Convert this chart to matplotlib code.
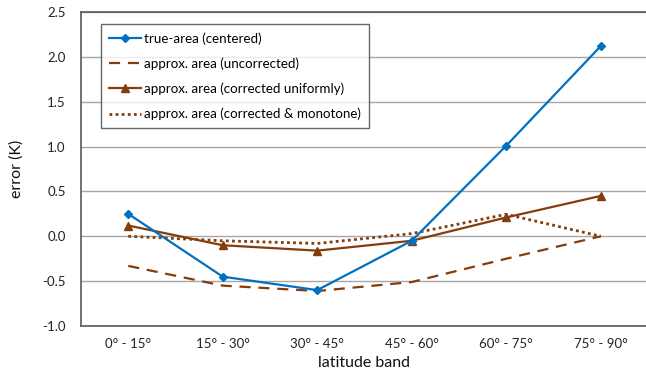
import matplotlib
matplotlib.use("Agg")
import matplotlib.pyplot as plt

plt.rcParams['font.family'] = ['Lato', 'DejaVu Sans']

categories = ["0° - 15°", "15° - 30°", "30° - 45°", "45° - 60°", "60° - 75°", "75° - 90°"]
true_area = [0.25, -0.45, -0.60, -0.05, 1.01, 2.12]
approx_uncorrected = [-0.33, -0.55, -0.61, -0.51, -0.25, 0.0]
approx_uniform = [0.12, -0.10, -0.16, -0.05, 0.21, 0.45]
approx_monotone = [0.0, -0.05, -0.08, 0.03, 0.245, 0.0]

blue = "#0070C0"
brown = "#843C0C"

fig = plt.figure(figsize=(6.46, 3.78), dpi=100)
ax = fig.add_axes([81/646, 1-326/378, (648-81)/646, (326-12)/378])

x = list(range(len(categories)))
ax.plot(x, true_area, color=blue, lw=1.6, marker="D", ms=4.5, label="true-area (centered)", zorder=4, clip_on=False)
ax.plot(x, approx_uncorrected, color=brown, lw=1.6, ls=(0, (5, 3.5)), label="approx. area (uncorrected)", zorder=3)
ax.plot(x, approx_uniform, color=brown, lw=1.6, marker="^", ms=6, label="approx. area (corrected uniformly)", zorder=3)
ax.plot(x, approx_monotone, color=brown, lw=2, ls=(0, (1, 1.2)), label="approx. area (corrected & monotone)", zorder=3)

ax.set_xlim(-0.5, 5.5)
ax.set_ylim(-1.0, 2.5)
yt = [-1.0, -0.5, 0.0, 0.5, 1.0, 1.5, 2.0, 2.5]
ax.set_yticks(yt)
ax.set_yticklabels([f"{v:.1f}" for v in yt])
ax.set_xticks(x)
ax.set_xticklabels(categories)
ax.tick_params(axis='both', length=0, labelsize=9.5, colors="#222222")
ax.tick_params(axis='x', pad=9)
ax.tick_params(axis='y', pad=11)
ax.grid(axis='y', color="#A6A6A6", lw=1)
ax.set_axisbelow(True)
ax.spines["right"].set_visible(False)
for s in ["left", "bottom", "top"]:
    ax.spines[s].set_color("#595959")
    ax.spines[s].set_linewidth(1.2)

ax.set_xlabel("latitude band", fontsize=11.5, color="#111111", labelpad=4)
ax.set_ylabel("error (K)", fontsize=11.5, color="#111111", labelpad=13)

leg = ax.legend(loc="upper left", bbox_to_anchor=((101-81)/567, (326-24)/314), fontsize=9.6, frameon=True,
                fancybox=False, edgecolor="#404040", handlelength=2.4, handletextpad=0.2,
                labelspacing=0.95, borderpad=0.6, borderaxespad=0)
leg.get_frame().set_linewidth(1.0)

fig.savefig("out.png", dpi=100)
